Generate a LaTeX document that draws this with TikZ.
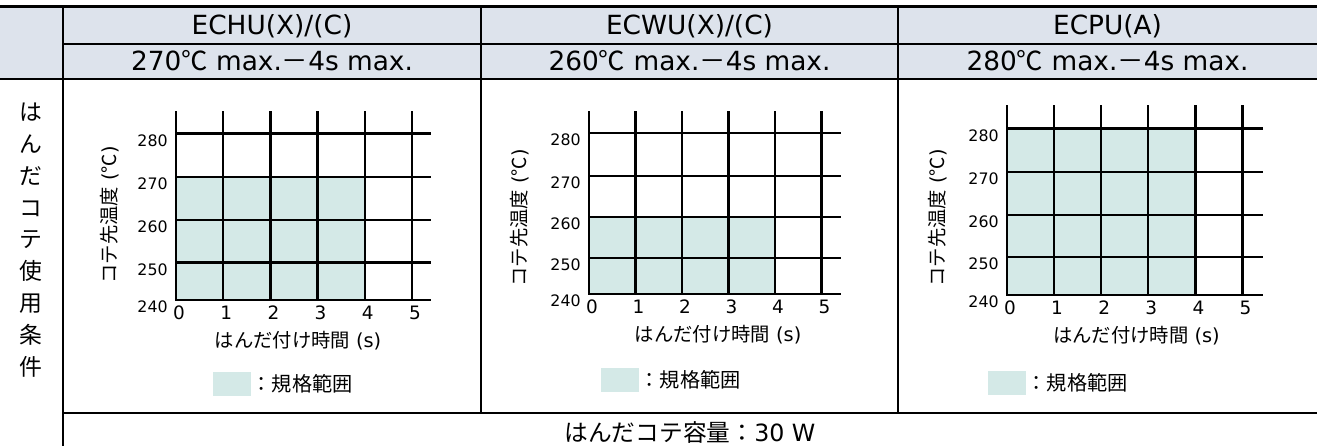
\documentclass[tikz,border=0pt]{standalone}
\usepackage{fontspec}
\usetikzlibrary{positioning}
\setmainfont{DejaVu Sans}
\newfontfamily\jp{Noto Sans CJK JP}
\definecolor{hdrgray}{RGB}{221,227,236}
\definecolor{specfill}{RGB}{212,233,231}
\tikzset{
  grid line/.style={line width=1.3pt, line cap=rect},
  rule/.style={line width=0.6pt},
  hdtext/.style={font=\fontsize{15}{17}\selectfont, inner sep=0pt},
  sidetext/.style={font=\jp\fontsize{13}{18.1}\selectfont, align=center, inner sep=0pt},
  ytick/.style={font=\fontsize{9}{10}\selectfont, anchor=east, inner sep=0pt},
  xtick/.style={font=\fontsize{10.5}{12}\selectfont, inner sep=0pt},
  axtitle/.style={font=\fontsize{11}{13}\selectfont, inner sep=0pt},
  legbox/.style={fill=specfill, minimum width=0.76cm, minimum height=0.47cm, inner sep=0pt},
  legtext/.style={font=\jp\fontsize{11.5}{13}\selectfont, inner sep=0pt},
}
\begin{document}
\begin{tikzpicture}[x=0.02cm, y=0.02cm]
  \useasboundingbox (0,0) rectangle (1322,446);
  % table frame
  \fill[hdrgray] (0,367) rectangle (1317,438);
  \draw[line width=1.7pt] (0,439) -- (1317,439);
  \draw[rule] (63,402) -- (1317,402);
  \draw[rule] (0,367) -- (1317,367);
  \draw[rule] (63,438) -- (63,0);
  \draw[rule] (481,438) -- (481,33);
  \draw[rule] (898,438) -- (898,33);
  \draw[rule] (63,33) -- (1317,33);
  % header
  \node[hdtext] (typA) at (272,420) {ECHU(X)/(C)};
  \node[hdtext] (typB) at (689.5,420) {ECWU(X)/(C)};
  \node[hdtext] (typC) at (1107.5,420) {ECPU(A)};
  \node[hdtext] (condA) at (272,385) {270{\jp ℃} max.{\jp －}4s max.};
  \node[hdtext] (condB) at (689.5,385) {260{\jp ℃} max.{\jp －}4s max.};
  \node[hdtext] (condC) at (1107.5,385) {280{\jp ℃} max.{\jp －}4s max.};
  \node[sidetext] (side) at (31,206) {は\\ん\\だ\\コ\\テ\\使\\用\\条\\件};
  \node[hdtext, font=\fontsize{13.5}{16}\selectfont] (power) at (690,14) {{\jp はんだコテ容量：}30 W};

  \begin{scope}[shift={(176,146)}]
    \fill[specfill] (0,0) rectangle (188.8,123);
    \foreach \x in {0,...,5}
      \draw[grid line] (47.2*\x,0) -- (47.2*\x,188);
    \foreach \y in {0,37.5,80,123,166.5}
      \draw[grid line] (0,\y) -- (254,\y);
    \foreach \y/\t [count=\i] in {0/240,37.5/250,80/260,123/270,166.5/280}
      \node[ytick] (ya\i) at (-8,\y-7) {\t};
    \foreach \x in {0,...,5}
      \node[xtick] (xa\x) at (47.2*\x+3,-13) {\x};
    \node[axtitle] (xta) at (122,-41) {{\jp はんだ付け時間} (s)};
    \node[axtitle, rotate=90] (yta) at (-66,85) {{\jp コテ先温度} ({\jp ℃})};
    \node[legbox] (lga) at (56,-84) {};
    \node[legtext, right=0pt of lga] (lgta) {：規格範囲};
  \end{scope}

  \begin{scope}[shift={(589,152)}]
    \fill[specfill] (0,0) rectangle (186,77);
    \foreach \x in {0,...,5}
      \draw[grid line] (46.5*\x,0) -- (46.5*\x,182);
    \foreach \y in {0,36.3,77,118.3,161.3}
      \draw[grid line] (0,\y) -- (251,\y);
    \foreach \y/\t [count=\i] in {0/240,36.3/250,77/260,118.3/270,161.3/280}
      \node[ytick] (yb\i) at (-8,\y-7) {\t};
    \foreach \x in {0,...,5}
      \node[xtick] (xb\x) at (46.5*\x+3,-13) {\x};
    \node[axtitle] (xtb) at (129,-41) {{\jp はんだ付け時間} (s)};
    \node[axtitle, rotate=90] (ytb) at (-69,76) {{\jp コテ先温度} ({\jp ℃})};
    \node[legbox] (lgb) at (31,-86) {};
    \node[legtext, right=0pt of lgb] (lgtb) {：規格範囲};
  \end{scope}

  \begin{scope}[shift={(1007,151)}]
    \fill[specfill] (0,0) rectangle (189.4,166.6);
    \foreach \x in {0,...,5}
      \draw[grid line] (47.1*\x,0) -- (47.1*\x,188.6);
    \foreach \y in {0,38,80,123,166.6}
      \draw[grid line] (0,\y) -- (254.4,\y);
    \foreach \y/\t [count=\i] in {0/240,38/250,80/260,123/270,166.6/280}
      \node[ytick] (yc\i) at (-8,\y-7) {\t};
    \foreach \x in {0,...,5}
      \node[xtick] (xc\x) at (47.1*\x+3,-13) {\x};
    \node[axtitle] (xtc) at (129.4,-41) {{\jp はんだ付け時間} (s)};
    \node[axtitle, rotate=90] (ytc) at (-69,77) {{\jp コテ先温度} ({\jp ℃})};
    \node[legbox] (lgc) at (0,-88) {};
    \node[legtext, right=0pt of lgc] (lgtc) {：規格範囲};
  \end{scope}
\end{tikzpicture}
\end{document}
